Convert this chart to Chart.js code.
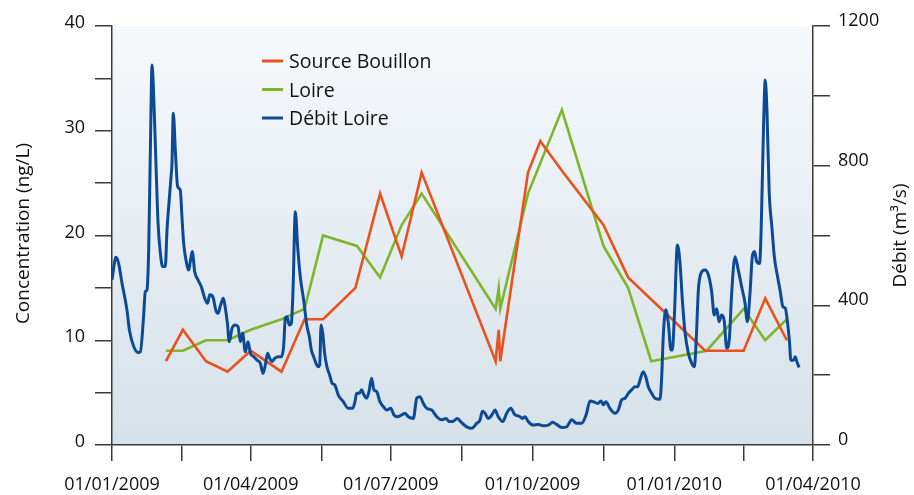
<!DOCTYPE html>
<html>
<head>
<meta charset="utf-8">
<script src="https://cdn.jsdelivr.net/npm/chart.js@4.4.1/dist/chart.umd.min.js"></script>
<style>
html,body{margin:0;padding:0;background:#fff;}
canvas{display:block;}
</style>
</head>
<body>
<canvas id="chart" width="914" height="495"></canvas>
<script>
// x = jours depuis le 01/01/2009
const xTickDays=[0,45,90,136,181,227,273,319,365,410,455];
const xTickLabels=["01/01/2009","","01/04/2009","","01/07/2009","","01/10/2009","","01/01/2010","","01/04/2010"];

// Concentration (ng/L)
const sourceDays=[35,46,61,75,90,110,125,137,158,174,188,201,249,251,252,270,278,293,319,335,385,410,424,438];
const sourceVals=[8,11,8,7,9,7,12,12,15,24,18,26,8,11,8,26,29,26,21,16,9,9,14,10];

const loireDays=[35,46,61,75,90,110,125,137,159,174,188,201,249,251,252,270,292,319,335,350,386,410,424,438];
const loireVals=[9,9,10,10,11,12,13,20,19,16,21,24,13,15,13,24,32,19,15,8,9,13,10,12];

// Débit (m3/s)
const debitDays=[0,2.6,4.3,6.5,9.7,11.3,14.1,16.9,18.4,20.5,21.6,22.7,23.8,24.9,26,27,28.6,29.9,31.4,32.9,34.6,35.7,36.8,38.5,38.9,39.8,41.1,42.6,44.3,45.4,46.5,48,49.8,50.8,52.1,53.7,55.8,58,60.2,62.1,63.4,65.6,67.3,68.8,70.5,72.3,73.6,74.9,76.1,77.9,80,81.8,83.3,84.8,86.5,88.3,89.8,92,94.1,96.3,98,99.5,101,102.4,103.8,105.6,107.7,109.9,111.4,112.5,113.6,115.1,116.4,117.5,119,120.5,122.2,124.4,126.6,128.1,129.4,130.9,132.4,133.7,134.8,135.7,136.8,138,139.5,141.3,142.8,144.6,146.9,150.1,153.4,156.2,157.7,158.8,160.5,162,163.6,165.3,166.8,168.5,170,171.8,173.9,176.1,178.3,180.9,183,185.2,188,190.2,192.3,195.6,197.8,199.9,202.1,204.3,207.5,210.8,214,216.8,219,221.1,224.1,226.3,230.2,233.5,236.7,238.9,240.4,242.1,244.3,246.5,248.6,250.7,253.6,256.2,258.8,261.6,263.1,264.8,266.6,268,270.2,273.4,276.7,279.9,283.2,286,288.6,291.9,295.1,298.4,301.6,304.9,307.7,310.3,312.4,315.3,317.4,319,320.6,323.2,326.5,328.6,330.8,333,335.1,337.3,339.5,341.2,342.7,344.8,346.4,348.1,350.3,352.4,355.7,356.8,357.8,359.4,361.1,362.8,363.7,365,367,368.7,370.2,372,374.1,376.3,378,379.1,380.6,382.3,384.9,387.1,389.2,390.9,392.5,394,395.7,397.3,399,400.8,402.2,404.4,406.5,408.7,410.9,412.4,414.1,415.6,417,418.5,420.3,421.4,422.9,424,425.1,426.6,428.3,429.9,432,433.6,435.5,437,438.5,439.8,440.6,442.4,443.4,444.5,446];
const debitVals=[473,538,520,463,387,329,282,265,267,368,439,444,558,845,1088,1007,797,635,549,511,511,616,683,778,802,950,845,740,730,654,578,530,501,525,554,496,473,453,420,406,430,423,387,377,401,420,391,349,296,334,344,339,296,320,267,296,263,253,243,234,205,229,263,248,239,248,253,253,282,363,367,344,348,444,668,568,482,415,339,310,272,253,234,224,229,344,320,263,224,200,177,172,143,124,105,105,124,148,148,158,143,134,153,191,158,153,124,110,100,105,86,81,86,91,81,76,134,138,119,105,100,81,72,76,67,67,76,67,52,48,62,72,97,91,76,86,100,81,67,91,105,86,84,81,76,81,67,57,59,55,57,65,59,50,52,72,62,62,86,126,124,119,126,115,124,105,91,100,129,134,148,158,167,167,186,210,196,167,148,134,131,196,310,387,349,272,272,367,573,520,415,320,263,234,224,291,444,492,501,487,440,372,390,353,372,358,277,310,434,539,501,453,406,353,434,539,554,525,520,625,912,1045,959,721,625,539,482,444,396,392,349,291,243,243,253,239,222];

const ORANGE="#e8521d", GREEN="#7db62b", BLUE="#0c4a96", INK="#111", AXIS="#3a3a3a";
const FONT='"Open Sans", sans-serif';

function pts(xs,ys){ return xs.map((x,i)=>({x:x,y:ys[i]})); }

// fond dégradé de la zone de tracé
const bgPlugin={
    id:"bg",
    beforeDraw(c){
        const a=c.chartArea, ctx=c.ctx;
        const g=ctx.createLinearGradient(0,a.top,0,a.bottom);
        g.addColorStop(0,"#f6f9fc");
        g.addColorStop(1,"#d6e1e9");
        ctx.save();
        ctx.fillStyle=g;
        ctx.fillRect(a.left,a.top,a.right-a.left,a.bottom-a.top);
        ctx.restore();
    }
};

// titres des axes (les deux lus de bas en haut)
function drawTitle(ctx,text,x,y){
    ctx.save();
    ctx.font="19px "+FONT;
    ctx.fillStyle=INK;
    ctx.textAlign="center";
    ctx.textBaseline="middle";
    ctx.translate(x,y);
    ctx.rotate(-Math.PI/2);
    ctx.fillText(text,0,0);
    ctx.restore();
}

const titlesPlugin={
    id:"titles",
    afterDraw(c){
        const a=c.chartArea, mid=(a.top+a.bottom)/2;
        drawTitle(c.ctx,"Concentration (ng/L)",24,mid-2);
        drawTitle(c.ctx,"Débit (m³/s)",901,mid);
    }
};

// légende dans la zone de tracé
const legendPlugin={
    id:"insideLegend",
    afterDatasetsDraw(c){
        const ctx=c.ctx;
        ctx.save();
        ctx.font="19.5px "+FONT;
        ctx.textBaseline="alphabetic";
        c.data.datasets.forEach((d,i)=>{
            const y=61+i*28.5;
            ctx.strokeStyle=d.borderColor;
            ctx.lineWidth=3;
            ctx.beginPath();
            ctx.moveTo(262,y);
            ctx.lineTo(283,y);
            ctx.stroke();
            ctx.fillStyle=INK;
            ctx.fillText(d.label,289,y+7);
        });
        ctx.restore();
    }
};

const axisGrid={drawOnChartArea:false,drawTicks:true,tickLength:17,tickColor:AXIS,lineWidth:1.5};
const axisBorder={display:true,color:AXIS,width:1.5};

new Chart(document.getElementById("chart"),{
    type:"line",
    data:{
        datasets:[
            {label:"Source Bouillon",data:pts(sourceDays,sourceVals),yAxisID:"y",borderColor:ORANGE,borderWidth:2.6,pointRadius:0,tension:0,order:1},
            {label:"Loire",data:pts(loireDays,loireVals),yAxisID:"y",borderColor:GREEN,borderWidth:2.6,pointRadius:0,tension:0,order:2},
            {label:"Débit Loire",data:pts(debitDays,debitVals),yAxisID:"y2",borderColor:BLUE,borderWidth:3,pointRadius:0,cubicInterpolationMode:"monotone",order:0}
        ]
    },
    options:{
        responsive:false,
        animation:false,
        events:[],
        layout:{padding:{top:26}},
        plugins:{legend:{display:false},tooltip:{enabled:false}},
        scales:{
            x:{
                type:"linear",min:0,max:455,
                afterBuildTicks:s=>{ s.ticks=xTickDays.map(v=>({value:v})); },
                afterFit:s=>{ s.height=50; },
                grid:Object.assign({},axisGrid,{tickLength:16}),
                border:axisBorder,
                ticks:{autoSkip:false,maxRotation:0,padding:13,color:INK,font:{family:FONT,size:18},
                    callback:(v,i)=>xTickLabels[i]}
            },
            y:{
                position:"left",min:0,max:40,
                afterFit:s=>{ s.width=112; },
                grid:axisGrid,
                border:axisBorder,
                ticks:{stepSize:5,padding:10,labelOffset:-3,color:INK,font:{family:FONT,size:18},
                    callback:v=>v%10===0?v:""}
            },
            y2:{
                position:"right",min:0,max:1200,
                afterFit:s=>{ s.width=101; },
                grid:axisGrid,
                border:axisBorder,
                ticks:{stepSize:200,padding:8,labelOffset:-5,color:INK,font:{family:FONT,size:18},
                    callback:v=>v%400===0?v:""}
            }
        }
    },
    plugins:[bgPlugin,titlesPlugin,legendPlugin]
});
</script>
</body>
</html>
